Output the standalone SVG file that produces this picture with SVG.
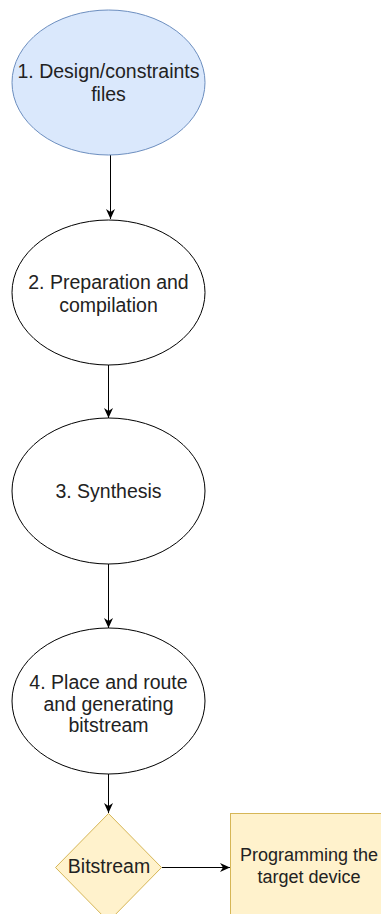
<svg xmlns="http://www.w3.org/2000/svg" width="381" height="914" viewBox="0 0 381 914">
  <style>
    .lbl { font-family: "Liberation Sans", Arial, sans-serif; font-size: 19.5px; fill: #222; text-anchor: middle; }
    .sm { font-size: 18px; }
    .ell { fill: #ffffff; stroke: #000000; stroke-width: 1; }
    .blue { fill: #dae8fc; stroke: #6c8ebf; }
    .yel { fill: #fff2cc; stroke: #d6b656; stroke-width: 1; }
    .edge { fill: none; stroke: #000000; stroke-width: 1; marker-end: url(#arr); }
  </style>
  <defs>
    <marker id="arr" markerUnits="userSpaceOnUse" markerWidth="10" markerHeight="10" refX="10" refY="4.5" orient="auto">
      <path d="M0,0 L10,4.5 L0,9 L3,4.5 Z" fill="#000"/>
    </marker>
  </defs>
  <rect width="381" height="914" fill="#ffffff"/>
  <g id="connectors">
    <line class="edge" x1="110.5" y1="155" x2="110.5" y2="219"/>
    <line class="edge" x1="108.5" y1="365" x2="108.5" y2="418"/>
    <line class="edge" x1="108.5" y1="564" x2="108.5" y2="628"/>
    <line class="edge" x1="108.5" y1="774" x2="108.5" y2="813"/>
    <line class="edge" x1="162" y1="867.5" x2="230" y2="867.5"/>
  </g>
  <g id="n1">
    <ellipse class="ell blue" cx="108.5" cy="82.5" rx="96.5" ry="72.5"/>
    <text class="lbl" x="108.5" y="78">1. Design/constraints</text>
    <text class="lbl" x="108.5" y="100.5">files</text>
  </g>
  <g id="n2">
    <ellipse class="ell" cx="108.5" cy="292.5" rx="96.5" ry="72.5"/>
    <text class="lbl" x="108.5" y="289">2. Preparation and</text>
    <text class="lbl" x="108.5" y="311.5">compilation</text>
  </g>
  <g id="n3">
    <ellipse class="ell" cx="108.5" cy="491" rx="96.5" ry="73"/>
    <text class="lbl" x="108.5" y="498">3. Synthesis</text>
  </g>
  <g id="n4">
    <ellipse class="ell" cx="108.5" cy="701" rx="96.5" ry="73"/>
    <text class="lbl" x="108.5" y="689">4. Place and route</text>
    <text class="lbl" x="108.5" y="710.5">and generating</text>
    <text class="lbl" x="108.5" y="732">bitstream</text>
  </g>
  <g id="n5">
    <polygon class="yel" points="108.5,813.5 161.5,867.5 108.5,921.5 55.5,867.5"/>
    <text class="lbl" x="109" y="873">Bitstream</text>
  </g>
  <g id="n6">
    <rect class="yel" x="230.5" y="813.5" width="158" height="108"/>
    <text class="lbl sm" x="309" y="861">Programming the</text>
    <text class="lbl sm" x="309" y="883">target device</text>
  </g>
</svg>
